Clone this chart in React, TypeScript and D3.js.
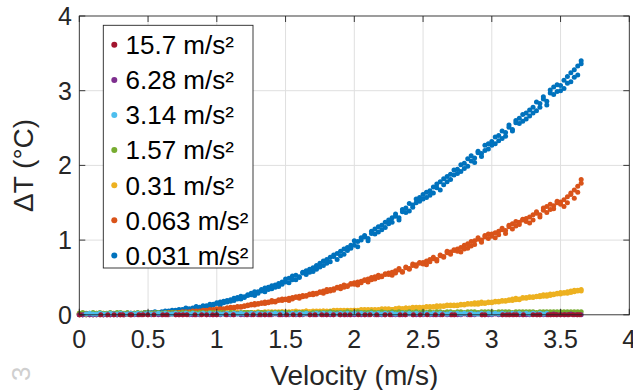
import React from "react";
import * as d3 from "d3";

// Shared velocity setpoints (m/s) for the measured series
const velocity = [
  0, 0.025, 0.05, 0.075, 0.1, 0.125, 0.15, 0.175, 0.2, 0.225,
  0.25, 0.275, 0.3, 0.325, 0.35, 0.375, 0.4, 0.425, 0.45, 0.475,
  0.5, 0.525, 0.55, 0.575, 0.6, 0.625, 0.65, 0.675, 0.7, 0.725,
  0.75, 0.775, 0.8, 0.825, 0.85, 0.875, 0.9, 0.925, 0.95, 0.975,
  1, 1.025, 1.05, 1.075, 1.1, 1.125, 1.15, 1.175, 1.2, 1.225,
  1.25, 1.275, 1.3, 1.325, 1.35, 1.375, 1.4, 1.425, 1.45, 1.475,
  1.5, 1.525, 1.55, 1.575, 1.6, 1.625, 1.65, 1.675, 1.7, 1.725,
  1.75, 1.775, 1.8, 1.825, 1.85, 1.875, 1.9, 1.925, 1.95, 1.975,
  2, 2.025, 2.05, 2.075, 2.1, 2.125, 2.15, 2.175, 2.2, 2.225,
  2.25, 2.275, 2.3, 2.325, 2.35, 2.375, 2.4, 2.425, 2.45, 2.475,
  2.5, 2.525, 2.55, 2.575, 2.6, 2.625, 2.65, 2.675, 2.7, 2.725,
  2.75, 2.775, 2.8, 2.825, 2.85, 2.875, 2.9, 2.925, 2.95, 2.975,
  3, 3.025, 3.05, 3.075, 3.1, 3.125, 3.15, 3.175, 3.2, 3.225,
  3.25, 3.275, 3.3, 3.325, 3.35, 3.375, 3.4, 3.425, 3.45, 3.475,
  3.5, 3.525, 3.55, 3.575, 3.6, 3.625, 3.65,
];

// ΔT (°C), two runs per acceleration for the low-acceleration cases
const dT_0031_runA = [
  0.00, 0.00, 0.01, 0.00, 0.00, 0.01, 0.00, 0.01, 0.00, 0.01,
  0.00, 0.01, 0.01, 0.00, 0.01, 0.02, 0.01, 0.01, 0.02, 0.02,
  0.02, 0.03, 0.02, 0.03, 0.04, 0.03, 0.05, 0.04, 0.06, 0.05,
  0.07, 0.08, 0.06, 0.09, 0.10, 0.08, 0.11, 0.12, 0.11, 0.14,
  0.15, 0.13, 0.18, 0.17, 0.20, 0.19, 0.23, 0.21, 0.24, 0.27,
  0.29, 0.26, 0.31, 0.34, 0.31, 0.37, 0.35, 0.40, 0.38, 0.44,
  0.48, 0.43, 0.52, 0.47, 0.51, 0.57, 0.54, 0.61, 0.58, 0.66,
  0.64, 0.72, 0.69, 0.77, 0.80, 0.74, 0.85, 0.81, 0.90, 0.93,
  0.99, 0.91, 1.03, 1.06, 0.99, 1.12, 1.08, 1.18, 1.14, 1.24,
  1.22, 1.30, 1.35, 1.27, 1.41, 1.37, 1.49, 1.44, 1.55, 1.52,
  1.55, 1.64, 1.60, 1.71, 1.75, 1.67, 1.82, 1.78, 1.88, 1.94,
  1.89, 2.01, 1.96, 2.09, 2.13, 2.04, 2.19, 2.16, 2.27, 2.22,
  2.27, 2.38, 2.33, 2.46, 2.39, 2.54, 2.48, 2.60, 2.56, 2.68,
  2.62, 2.74, 2.70, 2.85, 2.78, 2.92, 2.86, 3.01, 2.95, 3.08,
  3.00, 3.14, 3.10, 3.24, 3.18, 3.33, 3.36,
];
const dT_0031_runB = [
  0.01, 0.00, 0.00, 0.01, 0.01, 0.00, 0.01, 0.00, 0.01, 0.00,
  0.01, 0.00, 0.02, 0.01, 0.01, 0.01, 0.02, 0.02, 0.01, 0.03,
  0.03, 0.02, 0.04, 0.03, 0.03, 0.05, 0.04, 0.06, 0.05, 0.07,
  0.06, 0.09, 0.08, 0.08, 0.11, 0.10, 0.12, 0.11, 0.14, 0.13,
  0.16, 0.17, 0.16, 0.19, 0.18, 0.22, 0.21, 0.25, 0.23, 0.26,
  0.27, 0.31, 0.29, 0.32, 0.36, 0.34, 0.39, 0.37, 0.42, 0.41,
  0.44, 0.49, 0.47, 0.53, 0.50, 0.56, 0.59, 0.57, 0.63, 0.61,
  0.69, 0.66, 0.74, 0.71, 0.78, 0.82, 0.79, 0.88, 0.86, 0.89,
  0.93, 0.98, 1.00, 1.04, 1.02, 1.09, 1.15, 1.11, 1.20, 1.17,
  1.27, 1.24, 1.32, 1.30, 1.38, 1.43, 1.39, 1.47, 1.50, 1.57,
  1.61, 1.57, 1.66, 1.63, 1.70, 1.78, 1.74, 1.85, 1.81, 1.87,
  1.95, 1.92, 2.03, 1.99, 2.06, 2.10, 2.17, 2.12, 2.20, 2.29,
  2.32, 2.29, 2.40, 2.36, 2.44, 2.51, 2.46, 2.57, 2.63, 2.59,
  2.70, 2.66, 2.78, 2.73, 2.83, 2.89, 2.81, 2.97, 3.05, 2.99,
  3.07, 3.03, 3.19, 3.12, 3.28, 3.21, 3.40,
];

const dT_0063_runA = [
  0.00, 0.00, 0.00, 0.01, 0.00, 0.00, 0.01, 0.00, 0.01, 0.00,
  0.00, 0.01, 0.00, 0.01, 0.01, 0.00, 0.01, 0.02, 0.01, 0.01,
  0.01, 0.02, 0.01, 0.02, 0.02, 0.01, 0.03, 0.02, 0.03, 0.03,
  0.03, 0.04, 0.03, 0.05, 0.04, 0.05, 0.06, 0.05, 0.07, 0.06,
  0.07, 0.08, 0.07, 0.09, 0.10, 0.09, 0.11, 0.10, 0.12, 0.13,
  0.13, 0.15, 0.14, 0.16, 0.15, 0.17, 0.19, 0.17, 0.20, 0.19,
  0.21, 0.19, 0.23, 0.24, 0.22, 0.26, 0.25, 0.28, 0.27, 0.29,
  0.31, 0.29, 0.34, 0.32, 0.35, 0.37, 0.35, 0.40, 0.38, 0.41,
  0.43, 0.40, 0.45, 0.47, 0.44, 0.50, 0.48, 0.53, 0.51, 0.55,
  0.56, 0.53, 0.59, 0.62, 0.57, 0.64, 0.61, 0.68, 0.65, 0.70,
  0.70, 0.67, 0.74, 0.77, 0.72, 0.80, 0.78, 0.85, 0.81, 0.87,
  0.88, 0.84, 0.93, 0.89, 0.98, 0.94, 1.01, 0.97, 1.06, 1.02,
  1.08, 1.03, 1.12, 1.16, 1.09, 1.20, 1.15, 1.25, 1.21, 1.28,
  1.29, 1.23, 1.34, 1.38, 1.31, 1.43, 1.37, 1.48, 1.42, 1.52,
  1.51, 1.45, 1.58, 1.63, 1.56, 1.72, 1.76,
];
const dT_0063_runB = [
  0.00, 0.01, 0.00, 0.00, 0.00, 0.01, 0.00, 0.00, 0.00, 0.01,
  0.01, 0.00, 0.01, 0.00, 0.01, 0.01, 0.02, 0.01, 0.01, 0.02,
  0.02, 0.01, 0.02, 0.02, 0.01, 0.02, 0.02, 0.03, 0.02, 0.03,
  0.04, 0.03, 0.04, 0.04, 0.05, 0.04, 0.05, 0.06, 0.06, 0.07,
  0.08, 0.07, 0.08, 0.09, 0.09, 0.10, 0.10, 0.11, 0.11, 0.12,
  0.14, 0.13, 0.15, 0.15, 0.17, 0.16, 0.17, 0.18, 0.19, 0.21,
  0.20, 0.22, 0.21, 0.23, 0.25, 0.24, 0.26, 0.27, 0.29, 0.28,
  0.30, 0.32, 0.31, 0.34, 0.33, 0.36, 0.38, 0.37, 0.39, 0.42,
  0.41, 0.44, 0.43, 0.46, 0.48, 0.47, 0.51, 0.50, 0.52, 0.54,
  0.54, 0.57, 0.56, 0.60, 0.58, 0.63, 0.62, 0.66, 0.67, 0.69,
  0.68, 0.72, 0.71, 0.75, 0.74, 0.79, 0.77, 0.83, 0.84, 0.86,
  0.85, 0.90, 0.88, 0.95, 0.92, 0.99, 1.03, 1.00, 1.04, 1.08,
  1.05, 1.10, 1.07, 1.14, 1.13, 1.18, 1.22, 1.19, 1.24, 1.27,
  1.25, 1.31, 1.27, 1.36, 1.34, 1.40, 1.45, 1.41, 1.46, 1.50,
  1.48, 1.54, 1.50, 1.61, 1.67, 1.64, 1.81,
];

const dT_031_runA = [
  0.01, 0.02, 0.01, 0.01, 0.02, 0.01, 0.01, 0.02, 0.01, 0.01,
  0.01, 0.02, 0.01, 0.01, 0.01, 0.02, 0.01, 0.01, 0.02, 0.01,
  0.01, 0.02, 0.01, 0.02, 0.01, 0.01, 0.02, 0.01, 0.02, 0.02,
  0.02, 0.01, 0.02, 0.02, 0.01, 0.02, 0.02, 0.01, 0.02, 0.02,
  0.02, 0.03, 0.02, 0.02, 0.03, 0.02, 0.03, 0.02, 0.03, 0.03,
  0.03, 0.02, 0.03, 0.03, 0.04, 0.03, 0.03, 0.04, 0.03, 0.04,
  0.04, 0.03, 0.04, 0.04, 0.03, 0.04, 0.05, 0.04, 0.04, 0.05,
  0.04, 0.05, 0.05, 0.04, 0.05, 0.06, 0.05, 0.05, 0.06, 0.05,
  0.06, 0.05, 0.06, 0.07, 0.06, 0.06, 0.07, 0.06, 0.07, 0.08,
  0.07, 0.07, 0.08, 0.07, 0.08, 0.09, 0.08, 0.09, 0.10, 0.09,
  0.09, 0.11, 0.10, 0.11, 0.10, 0.12, 0.11, 0.13, 0.12, 0.13,
  0.12, 0.14, 0.13, 0.15, 0.14, 0.16, 0.14, 0.17, 0.15, 0.17,
  0.16, 0.18, 0.17, 0.19, 0.18, 0.20, 0.19, 0.22, 0.20, 0.22,
  0.22, 0.24, 0.23, 0.25, 0.24, 0.27, 0.25, 0.28, 0.27, 0.29,
  0.28, 0.30, 0.29, 0.32, 0.31, 0.33, 0.32,
];
const dT_031_runB = [
  0.02, 0.01, 0.01, 0.02, 0.01, 0.02, 0.01, 0.01, 0.01, 0.02,
  0.01, 0.01, 0.02, 0.01, 0.02, 0.01, 0.01, 0.02, 0.01, 0.02,
  0.02, 0.01, 0.01, 0.02, 0.02, 0.01, 0.02, 0.02, 0.01, 0.02,
  0.01, 0.02, 0.02, 0.01, 0.02, 0.02, 0.02, 0.02, 0.03, 0.02,
  0.03, 0.02, 0.02, 0.03, 0.02, 0.03, 0.03, 0.02, 0.03, 0.03,
  0.03, 0.03, 0.04, 0.03, 0.03, 0.04, 0.04, 0.03, 0.04, 0.04,
  0.03, 0.04, 0.04, 0.05, 0.04, 0.04, 0.05, 0.04, 0.05, 0.04,
  0.05, 0.05, 0.04, 0.05, 0.06, 0.05, 0.06, 0.06, 0.05, 0.06,
  0.06, 0.06, 0.07, 0.06, 0.07, 0.07, 0.06, 0.07, 0.08, 0.07,
  0.08, 0.07, 0.08, 0.09, 0.08, 0.09, 0.09, 0.10, 0.09, 0.10,
  0.10, 0.10, 0.11, 0.10, 0.12, 0.11, 0.12, 0.12, 0.13, 0.12,
  0.13, 0.13, 0.14, 0.14, 0.15, 0.14, 0.16, 0.15, 0.16, 0.16,
  0.17, 0.17, 0.18, 0.18, 0.19, 0.19, 0.21, 0.20, 0.21, 0.23,
  0.23, 0.23, 0.24, 0.24, 0.26, 0.25, 0.27, 0.26, 0.28, 0.28,
  0.30, 0.29, 0.31, 0.30, 0.33, 0.32, 0.34,
];

const dT_157 = [
  0.02, 0.03, 0.02, 0.02, 0.03, 0.02, 0.03, 0.02, 0.02, 0.03,
  0.02, 0.03, 0.03, 0.02, 0.03, 0.02, 0.02, 0.03, 0.02, 0.03,
  0.03, 0.02, 0.03, 0.03, 0.02, 0.03, 0.02, 0.03, 0.03, 0.02,
  0.03, 0.03, 0.02, 0.03, 0.02, 0.03, 0.03, 0.02, 0.03, 0.03,
  0.02, 0.03, 0.03, 0.02, 0.03, 0.03, 0.02, 0.03, 0.03, 0.03,
  0.03, 0.02, 0.03, 0.03, 0.03, 0.02, 0.03, 0.03, 0.03, 0.03,
  0.03, 0.03, 0.02, 0.03, 0.03, 0.03, 0.03, 0.02, 0.03, 0.03,
  0.03, 0.03, 0.03, 0.04, 0.03, 0.03, 0.03, 0.03, 0.04, 0.03,
  0.03, 0.04, 0.03, 0.03, 0.03, 0.04, 0.03, 0.03, 0.04, 0.03,
  0.03, 0.04, 0.03, 0.04, 0.03, 0.03, 0.04, 0.03, 0.04, 0.03,
  0.04, 0.03, 0.04, 0.03, 0.04, 0.04, 0.03, 0.04, 0.04, 0.03,
  0.04, 0.04, 0.03, 0.04, 0.04, 0.04, 0.03, 0.04, 0.04, 0.04,
  0.04, 0.03, 0.04, 0.04, 0.04, 0.04, 0.03, 0.04, 0.04, 0.04,
  0.04, 0.04, 0.04, 0.03, 0.04, 0.04, 0.04, 0.04, 0.04, 0.04,
  0.04, 0.04, 0.04, 0.04, 0.04, 0.04, 0.04,
];

const dT_314 = [
  null, null, 0.01, 0.02, 0.01, 0.01, 0.02, 0.01, 0.01, 0.02,
  0.01, 0.01, 0.02, 0.01, 0.01, 0.02, 0.01, 0.02, 0.01, 0.01,
  0.02, 0.01, 0.01, 0.02, 0.01, 0.02, 0.01, 0.01, 0.02, 0.01,
  0.01, 0.02, 0.01, 0.02, 0.01, 0.01, 0.02, 0.01, 0.02, 0.01,
  0.02, 0.01, 0.01, 0.02, 0.01, 0.02, 0.01, 0.02, 0.01, 0.01,
  0.02, 0.01, 0.02, 0.01, 0.01, 0.02, 0.01, 0.02, 0.01, 0.02,
  0.01, 0.01, 0.02, 0.01, 0.02, 0.01, 0.02, 0.01, 0.01, 0.02,
  0.01, 0.02, 0.01, 0.02, 0.01, 0.01, 0.02, 0.01, 0.02, 0.01,
  0.02, 0.01, 0.02, 0.01, 0.01, 0.02, 0.01, 0.02, 0.01, 0.02,
  0.01, 0.02, 0.01, 0.01, 0.02, 0.01, 0.02, 0.01, 0.02, 0.01,
  0.01, 0.02, 0.01, 0.02, 0.01, 0.02, 0.01, 0.01, 0.02, 0.01,
  0.02, 0.01, 0.02, 0.01, 0.02, 0.01, 0.01, 0.02, 0.01, 0.02,
  0.01, 0.02, 0.01, 0.02, 0.01, 0.01, 0.02, 0.01, 0.02, 0.01,
  0.02, 0.01, 0.02, 0.01, 0.02, 0.01, 0.02, null, null, null,
  null, null, null, null, null, null, null,
];

const dT_628 = [
  0.00, 0.00, 0.01, 0.00, 0.00, 0.00, 0.01, 0.00, 0.00, 0.00,
  0.01, 0.00, 0.00, 0.00, 0.01, 0.00, 0.00, 0.00, 0.00, 0.01,
  0.00, 0.00, 0.01, 0.00, 0.00, 0.00, 0.00, 0.01, 0.00, 0.00,
  0.00, 0.01, 0.00, 0.00, 0.00, 0.00, 0.01, 0.00, 0.00, 0.00,
  0.00, 0.00, 0.01, 0.00, 0.00, 0.00, 0.01, 0.00, 0.00, 0.00,
  0.00, 0.01, 0.00, 0.00, 0.00, 0.00, 0.00, 0.01, 0.00, 0.00,
  0.00, 0.00, 0.01, 0.00, 0.00, 0.00, 0.01, 0.00, 0.00, 0.00,
  0.01, 0.00, 0.00, 0.00, 0.00, 0.01, 0.00, 0.00, 0.00, 0.00,
  0.00, 0.01, 0.00, 0.00, 0.00, 0.01, 0.00, 0.00, 0.00, 0.00,
  0.01, 0.00, 0.00, 0.00, 0.00, 0.00, 0.01, 0.00, 0.00, 0.00,
  0.00, 0.01, 0.00, 0.00, 0.00, 0.00, 0.01, 0.00, 0.00, 0.00,
  0.00, 0.00, 0.01, 0.00, 0.00, 0.00, 0.01, 0.00, 0.00, 0.00,
  0.00, 0.01, 0.00, 0.00, 0.00, 0.00, 0.00, 0.01, 0.00, 0.00,
  0.00, 0.00, 0.01, 0.00, 0.00, 0.00, 0.00, 0.00, 0.01, 0.00,
  0.00, 0.00, 0.00, 0.01, 0.00, 0.00, 0.00,
];

// The 15.7 m/s² run was sampled more sparsely
const velocity_157 = [
  0.005, 0.156, 0.207, 0.253, 0.296, 0.316, 0.369, 0.381, 0.434, 0.463,
  0.498, 0.543, 0.607, 0.638, 0.703, 0.725, 0.754, 0.783, 0.841, 0.89,
  0.926, 0.97, 0.999, 1.067, 1.12, 1.217, 1.265, 1.314, 1.35, 1.387,
  1.46, 1.508, 1.556, 1.605, 1.678, 1.714, 1.763, 1.799, 1.848, 1.896,
  1.932, 1.969, 2.029, 2.078, 2.114, 2.163, 2.223, 2.26, 2.333, 2.37,
  2.43, 2.48, 2.53, 2.59, 2.64, 2.71, 2.73, 2.84, 2.93, 2.95,
  3.08, 3.11, 3.13, 3.16, 3.18, 3.23, 3.3, 3.33, 3.35, 3.41,
  3.43, 3.45, 3.47, 3.5, 3.53, 3.56, 3.59, 3.62, 3.64,
];
const dT_15_7 = [
  0, 0, 0, 0, 0, 0, 0, 0, 0, 0,
  0, 0, 0, 0, 0, 0, 0, 0, 0, 0,
  0, 0, 0, 0, 0, 0, 0, 0, 0, 0,
  0, 0, 0, 0, 0, 0, 0, 0, 0, 0,
  0, 0, 0, 0, 0, 0, 0, 0, 0, 0,
  0, 0, 0, 0, 0, 0, 0, 0, 0, 0,
  0, 0, 0, 0, 0, 0, 0, 0, 0, 0,
  0, 0, 0, 0, 0, 0, 0, 0, 0,
];

const legendLabels = ["15.7 m/s²", "6.28 m/s²", "3.14 m/s²", "1.57 m/s²", "0.31 m/s²", "0.063 m/s²", "0.031 m/s²"];
const legendColors = ["#A2142F", "#7E2F8E", "#4DBEEE", "#77AC30", "#EDB120", "#D95319", "#0072BD"];
const xTicks = [0, 0.5, 1, 1.5, 2, 2.5, 3, 3.5, 4];
const yTicks = [0, 1, 2, 3, 4];

type Series = { color: string; xs: number[]; ys: (number | null)[] };

// Draw order: lowest acceleration first, 15.7 m/s² on top
const series: Series[] = [
  { color: legendColors[6], xs: velocity, ys: dT_0031_runA },
  { color: legendColors[6], xs: velocity, ys: dT_0031_runB },
  { color: legendColors[5], xs: velocity, ys: dT_0063_runA },
  { color: legendColors[5], xs: velocity, ys: dT_0063_runB },
  { color: legendColors[4], xs: velocity, ys: dT_031_runA },
  { color: legendColors[4], xs: velocity, ys: dT_031_runB },
  { color: legendColors[3], xs: velocity, ys: dT_157 },
  { color: legendColors[1], xs: velocity, ys: dT_628 },
  { color: legendColors[2], xs: velocity, ys: dT_314 },
  { color: legendColors[0], xs: velocity_157, ys: dT_15_7 },
];

const W = 633;
const H = 390;
const plot = { left: 79.3, right: 629.3, top: 16, bottom: 314.8 };
const FONT = "'Liberation Sans', Arial, Helvetica, sans-serif";
const TXT = "#262626";

export default function App() {
  const x = d3.scaleLinear().domain([0, 4]).range([plot.left, plot.right]);
  const y = d3.scaleLinear().domain([0, 4]).range([plot.bottom, plot.top]);
  const tickLen = 6;

  const legend = { x: 103.3, y: 25.3, w: 149.7, h: 242.7, row: 35.1, first: 44.8 };

  return (
    <svg width={W} height={H} style={{ position: "absolute", left: 0, top: 0, background: "#fff" }} fontFamily={FONT}>
      <rect x={0} y={0} width={W} height={H} fill="#fff" />
      {/* faint remnant of neighbouring label */}
      <text x={0} y={0} fontSize={26} fill="#cfcfcf" transform="translate(30,381) rotate(-90)">3</text>

      {/* grid */}
      <g stroke="#dfdfdf" strokeWidth={1}>
        {xTicks.slice(1, -1).map((t) => (
          <line key={"gx" + t} x1={x(t)} x2={x(t)} y1={plot.top} y2={plot.bottom} />
        ))}
        {yTicks.slice(1, -1).map((t) => (
          <line key={"gy" + t} x1={plot.left} x2={plot.right} y1={y(t)} y2={y(t)} />
        ))}
      </g>

      {/* data */}
      {series.map((s, si) => (
        <g key={si} fill={s.color}>
          {s.xs.map((v, i) =>
            s.ys[i] == null ? null : <circle key={i} cx={x(v)} cy={y(s.ys[i] as number)} r={2.5} />
          )}
        </g>
      ))}

      {/* axes box and ticks */}
      <g stroke={TXT} strokeWidth={0.9} fill="none">
        <rect x={plot.left} y={plot.top} width={plot.right - plot.left} height={plot.bottom - plot.top} />
        {xTicks.map((t) => (
          <g key={"tx" + t}>
            <line x1={x(t)} x2={x(t)} y1={plot.bottom} y2={plot.bottom - tickLen} />
            <line x1={x(t)} x2={x(t)} y1={plot.top} y2={plot.top + tickLen} />
          </g>
        ))}
        {yTicks.map((t) => (
          <g key={"ty" + t}>
            <line x1={plot.left} x2={plot.left + tickLen} y1={y(t)} y2={y(t)} />
            <line x1={plot.right} x2={plot.right - tickLen} y1={y(t)} y2={y(t)} />
          </g>
        ))}
      </g>

      {/* tick labels */}
      <g fill={TXT} fontSize={25}>
        {xTicks.map((t) => (
          <text key={"lx" + t} x={x(t)} y={348} textAnchor="middle">{String(t)}</text>
        ))}
        {yTicks.map((t) => (
          <text key={"ly" + t} x={72} y={y(t) + 9} textAnchor="end">{String(t)}</text>
        ))}
      </g>

      {/* axis labels */}
      <text x={(plot.left + plot.right) / 2} y={385} textAnchor="middle" fontSize={28} fill={TXT}>Velocity (m/s)</text>
      <text transform={`translate(33,${(plot.top + plot.bottom) / 2}) rotate(-90)`} textAnchor="middle" fontSize={28} fill={TXT}>ΔT (°C)</text>

      {/* legend */}
      <rect x={legend.x} y={legend.y} width={legend.w} height={legend.h} fill="#fff" stroke={TXT} strokeWidth={0.9} />
      {legendLabels.map((lab, i) => {
        const cy = legend.first + i * legend.row;
        return (
          <g key={lab}>
            <circle cx={114.3} cy={cy} r={3} fill={legendColors[i]} />
            <text x={125.5} y={cy + 9.3} fontSize={26} fill="#000">{lab}</text>
          </g>
        );
      })}
    </svg>
  );
}
